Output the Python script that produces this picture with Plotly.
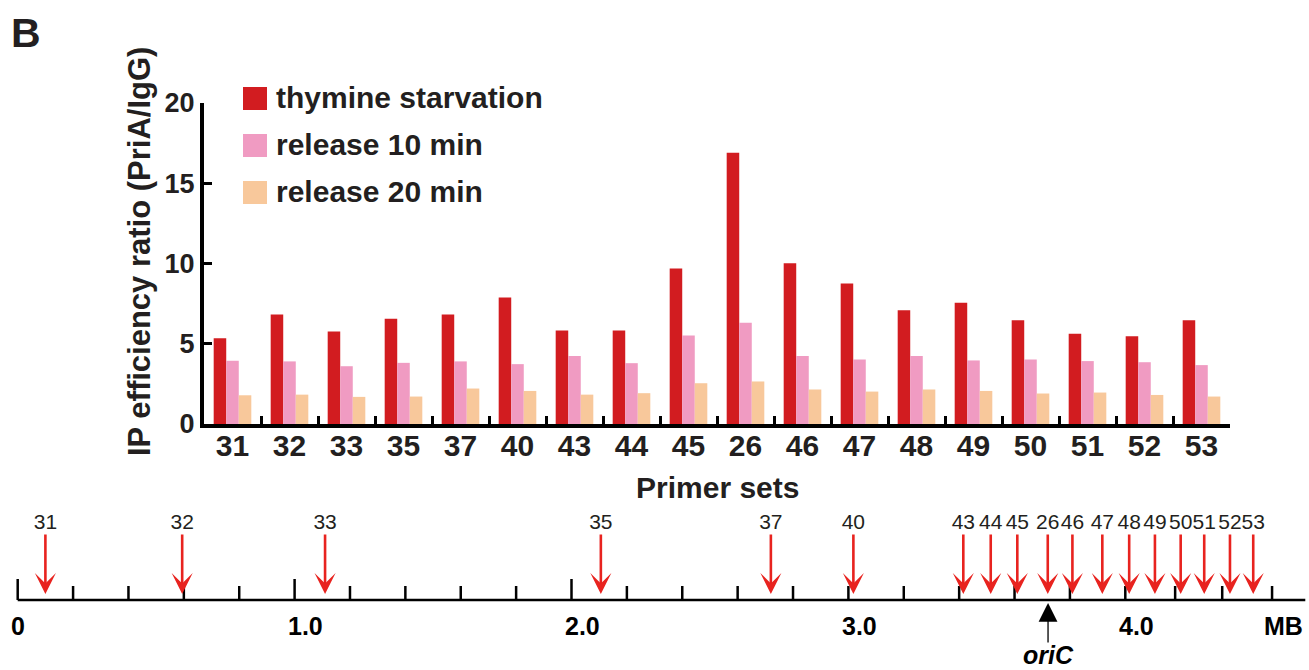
import plotly.graph_objects as go

# ---------------- data ----------------
primer_sets = ["31", "32", "33", "35", "37", "40", "43", "44", "45", "26",
               "46", "47", "48", "49", "50", "51", "52", "53"]
thymine_starvation = [5.35, 6.83, 5.77, 6.56, 6.83, 7.88, 5.83, 5.83, 9.69, 16.9,
                      10.02, 8.75, 7.08, 7.56, 6.46, 5.63, 5.46, 6.46]
release_10 = [3.94, 3.90, 3.60, 3.81, 3.90, 3.73, 4.23, 3.79, 5.52, 6.31,
              4.23, 4.02, 4.23, 3.96, 4.02, 3.92, 3.85, 3.67]
release_20 = [1.79, 1.83, 1.69, 1.71, 2.21, 2.06, 1.83, 1.92, 2.54, 2.65,
              2.15, 2.02, 2.15, 2.06, 1.90, 1.96, 1.81, 1.71]
series_names = ["thymine starvation", "release 10 min", "release 20 min"]

# genome map (positions in MB)
map_labels = ["31", "32", "33", "35", "37", "40", "43", "44", "45", "26",
              "46", "47", "48", "49", "50", "51", "52", "53"]
map_positions = [0.10, 0.594, 1.11, 2.106, 2.72, 3.018, 3.415, 3.514, 3.61, 3.72,
                 3.809, 3.917, 4.014, 4.107, 4.20, 4.285, 4.378, 4.462]
major_ticks = [0.0, 1.0, 2.0]
minor_ticks = [0.2, 0.4, 0.6, 0.8, 1.2, 1.4, 1.6, 1.8, 2.2, 2.4, 2.6, 2.8,
               3.0, 3.2, 3.4, 3.6, 3.8, 4.0, 4.18, 4.35, 4.53]
scale_labels = ["0", "1.0", "2.0", "3.0", "4.0"]
scale_values = [0.0, 1.0, 2.0, 3.0, 4.0]
genome_end = 4.65
oric_position = 3.721

# ---------------- style ----------------
FONT = "Liberation Sans, Arial, Helvetica, sans-serif"
TXT = "#231f20"
colors = ["#d21c20", "#f09bc2", "#f8c89b"]
W, H = 1309, 670

fig = go.Figure()

for name, vals, c in zip(series_names, [thymine_starvation, release_10, release_20], colors):
    fig.add_trace(go.Bar(x=primer_sets, y=vals, name=name, marker_color=c,
                         marker_line_width=0, showlegend=False,
                         xaxis="x", yaxis="y"))

# genome map: baseline
fig.add_trace(go.Scatter(x=[0, genome_end], y=[0, 0], mode="lines",
                         line=dict(color="black", width=2.5),
                         xaxis="x2", yaxis="y2", showlegend=False, hoverinfo="skip"))
# ticks
tx, ty = [], []
for t in major_ticks:
    tx += [t, t, None]; ty += [0, 21, None]
for t in minor_ticks:
    tx += [t, t, None]; ty += [0, 14, None]
fig.add_trace(go.Scatter(x=tx, y=ty, mode="lines",
                         line=dict(color="black", width=2.5),
                         xaxis="x2", yaxis="y2", showlegend=False, hoverinfo="skip"))
# primer labels above arrows
fig.add_trace(go.Scatter(x=map_positions, y=[76] * len(map_positions), mode="text",
                         text=map_labels, textposition="middle center",
                         textfont=dict(family=FONT, size=21, color=TXT),
                         cliponaxis=False,
                         xaxis="x2", yaxis="y2", showlegend=False, hoverinfo="skip"))

annotations = []
# red arrows
for p in map_positions:
    annotations.append(dict(x=p, y=6, ax=p, ay=67, xref="x2", yref="y2",
                            axref="x2", ayref="y2", text="", showarrow=True,
                            arrowhead=3, arrowsize=1.35, arrowwidth=2.6,
                            arrowcolor="#e8231f"))
# scale labels
for lab, v in zip(scale_labels, scale_values):
    annotations.append(dict(x=v, y=-26, xref="x2", yref="y2", text=f"<b>{lab}</b>",
                            xanchor="center", yanchor="middle",
                            showarrow=False, xshift=0 if v == 0 else 11,
                            font=dict(family=FONT, size=25, color="black")))
annotations.append(dict(x=1.0, y=-26, xref="paper", yref="y2", xanchor="right",
                        yanchor="middle", xshift=-4, text="<b>MB</b>", showarrow=False,
                        font=dict(family=FONT, size=25, color="black")))
# oriC
annotations.append(dict(x=oric_position, y=-3, ax=oric_position, ay=-44,
                        xref="x2", yref="y2", axref="x2", ayref="y2", text="",
                        showarrow=True, arrowhead=2, arrowsize=2.9, arrowwidth=1.3,
                        arrowcolor="black"))
annotations.append(dict(x=oric_position, y=-55, xref="x2", yref="y2",
                        xanchor="center", yanchor="middle",
                        text="<b><i>oriC</i></b>", showarrow=False,
                        font=dict(family=FONT, size=25, color="black")))
# panel label
annotations.append(dict(x=9 / W, y=1 - 8 / H, xref="paper", yref="paper",
                        xanchor="left", yanchor="top", text="<b>B</b>", showarrow=False,
                        font=dict(family=FONT, size=41, color=TXT)))
# axis titles
annotations.append(dict(x=139 / W, y=1 - 252 / H, xref="paper", yref="paper",
                        xanchor="center", yanchor="middle",
                        textangle=-90, text="<b>IP efficiency ratio (PriA/IgG)</b>",
                        showarrow=False, font=dict(family=FONT, size=31, color=TXT)))
annotations.append(dict(x=717 / W, y=1 - 487 / H, xref="paper", yref="paper",
                        xanchor="center", yanchor="middle",
                        text="<b>Primer sets</b>",
                        showarrow=False, font=dict(family=FONT, size=30, color=TXT)))

# manual legend
shapes = []
legend_rows = [98.5, 145.5, 192.5]
for name, c, yc in zip(series_names, colors, legend_rows):
    shapes.append(dict(type="rect", xref="paper", yref="paper",
                       x0=243 / W, x1=267 / W, y0=1 - (yc + 11.5) / H, y1=1 - (yc - 11.5) / H,
                       fillcolor=c, line=dict(width=0)))
    annotations.append(dict(x=274 / W, y=1 - (yc - 1) / H, xref="paper", yref="paper",
                            xanchor="left", yanchor="middle", text=f"<b>{name}</b>",
                            showarrow=False, font=dict(family=FONT, size=30, color=TXT)))

fig.update_layout(
    width=W, height=H,
    margin=dict(l=0, r=0, t=0, b=0, pad=0, autoexpand=False),
    paper_bgcolor="white", plot_bgcolor="white",
    barmode="group", bargap=0.34, bargroupgap=0,
    font=dict(family=FONT, color=TXT),
    xaxis=dict(domain=[204 / W, 1230 / W], anchor="y", type="category", automargin=False,
               range=[-0.5, 17.5], showline=True, linecolor="black", linewidth=4,
               ticks="inside", tickson="boundaries", ticklen=8, tickwidth=3,
               tickcolor="black", showgrid=False, zeroline=False,
               ticklabelstandoff=-8,
               tickfont=dict(family=FONT, size=30, color=TXT, weight="bold")),
    yaxis=dict(domain=[(H - 424) / H, (H - 103) / H], anchor="x", automargin=False,
               range=[0, 20], tickvals=[0, 5, 10, 15, 20],
               showline=True, linecolor="black", linewidth=4,
               ticks="inside", ticklen=8, tickwidth=3, tickcolor="black",
               showgrid=False, zeroline=False,
               tickfont=dict(family=FONT, size=27, color=TXT, weight="bold")),
    xaxis2=dict(domain=[0, 1], anchor="y2", range=[-17.7 / 276.9, (W - 17.7) / 276.9],
                visible=False, automargin=False),
    yaxis2=dict(domain=[0, (H - 505) / H], anchor="x2", range=[-70, 95],
                visible=False, automargin=False),
    annotations=annotations,
    shapes=shapes,
)

fig.write_html("out.html")
